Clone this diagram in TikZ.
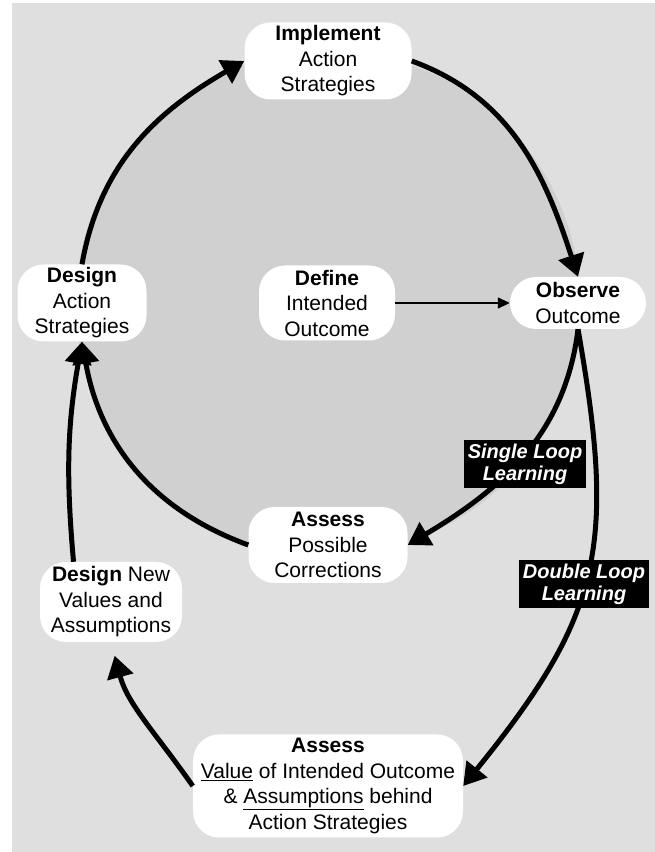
\documentclass[tikz,border=0pt]{standalone}
\usepackage{fontspec}
\setmainfont{Liberation Sans}
\usetikzlibrary{positioning, arrows.meta}
\definecolor{bggray}{HTML}{DFDFDF}
\definecolor{diskgray}{HTML}{D0D0D0}

\begin{document}
\begin{tikzpicture}[x=1pt, y=1pt,
        stage/.style={fill=white, rounded corners=26pt, align=center, inner sep=1pt,
            font=\fontsize{21}{25.5}\selectfont},
        looplabel/.style={fill=black, text=white, align=center, inner sep=1pt,
            font=\fontsize{20}{22}\selectfont\bfseries\itshape},
        flow/.style={line width=5pt, -{Triangle[length=22pt, width=26pt]}},
        feed/.style={line width=1.5pt, -{Triangle[length=12pt, width=11pt]}}]
        \useasboundingbox (0,0) rectangle (655,852);
        \fill[bggray] (12,0) rectangle (655,849);
        \fill[diskgray] (328,549) circle (252pt);
        \node[stage, minimum width=167pt, minimum height=77pt] (impl) at (328,791) {\textbf{Implement}\\Action\\Strategies};
        \node[stage, minimum width=129pt, minimum height=77pt] (dsgn) at (82,549) {\textbf{Design}\\Action\\Strategies};
        \node[stage, minimum width=136pt, minimum height=75pt] (defn) at (327,549) {\textbf{Define}\\Intended\\Outcome};
        \node[stage, minimum width=136pt, minimum height=52pt] (obs) at (578,549) {\textbf{Observe}\\Outcome};
        \node[stage, minimum width=159pt, minimum height=76pt] (asp) at (328,307) {\textbf{Assess}\\Possible\\Corrections};
        \node[stage, minimum width=142pt, minimum height=80pt] (dnew) at (111,250) {\textbf{Design} New\\Values and\\Assumptions};
        \node[stage, minimum width=270pt, minimum height=103pt] (aval) at (328,66) {\textbf{Assess}\\\underline{Value} of Intended Outcome\\\& \underline{Assumptions} behind\\Action Strategies};
        % single loop
        \draw[flow] (dsgn.north) to[out=80, in=210] (impl.west);
        \draw[flow] (impl.east) to[out=-20, in=108] (obs.north);
        \draw[feed] (defn.east) -- (obs.west);
        \draw[flow] (obs.south) to[out=-97, in=31] (asp.east);
        \draw[flow] (asp.west) to[out=160, in=-80] (dsgn.south);
        % double loop
        \draw[flow] (obs.south) to[out=-80, in=51, looseness=1.2] (aval.east);
        \draw[flow, shorten >=14pt] (aval.west) to[out=125, in=-75] (dnew.south);
        \draw[flow] (dnew.133) to[out=95, in=-100] (dsgn.south);
        \node[looplabel, minimum width=122pt, minimum height=48pt] (slearn) at (525,388) {Single Loop\\Learning};
        \node[looplabel, minimum width=130pt, minimum height=48pt] (dlearn) at (584,268) {Double Loop\\Learning};
\end{tikzpicture}
\end{document}
